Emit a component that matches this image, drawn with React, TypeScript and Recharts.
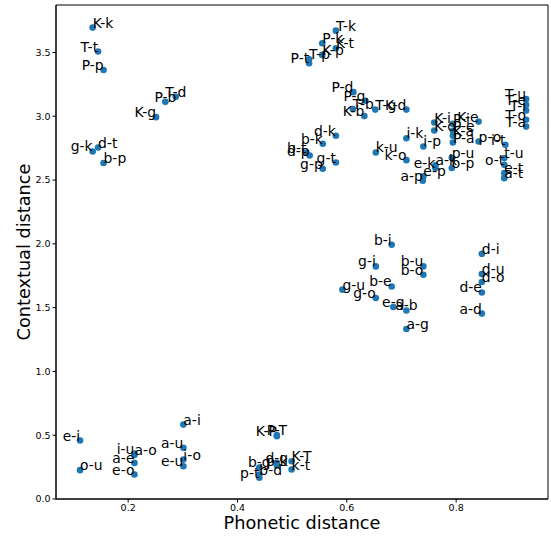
import React from 'react';
import { ScatterChart, Scatter, XAxis, YAxis, ReferenceArea } from 'recharts';

// Pair labels
const pairLabels = [
  'K-k', 'T-t', 'P-p', 'P-b', 'T-d', 'K-g', 'g-k', 'd-t', 'b-p',
  'T-k', 'P-k', 'K-t', 'K-p', 'T-p', 'P-t',
  'P-d', 'P-g', 'T-b', 'K-b', 'T-g', 'K-d',
  'd-k', 'b-k', 'd-p', 'b-t', 'g-t', 'g-p',
  'i-k', 'k-u', 'k-o', 'i-p', 'e-k', 'a-k', 'a-p', 'e-p', 'o-p', 'p-u',
  'K-i', 'K-o', 'P-i', 'K-e', 'P-e', 'K-a', 'P-a', 'p-o', 'i-t', 't-u', 'o-t', 'e-t', 'a-t',
  'T-u', 'T-e', 'T-i', 'T-o', 'T-a',
  'b-i', 'g-i', 'b-u', 'b-o', 'g-u', 'b-e', 'g-o', 'e-g', 'a-b', 'a-g',
  'd-i', 'd-u', 'd-o', 'd-e', 'a-d',
  'a-i', 'e-i', 'o-u', 'i-u', 'a-o', 'a-e', 'e-o', 'a-u', 'i-o', 'e-u',
  'K-P', 'P-T', 'd-g', 'p-k', 'K-T', 'k-t', 'b-g', 'b-d', 'p-t',
];

// Phonetic distance (x)
const phoneticDistance = [
  0.135, 0.145, 0.155, 0.268, 0.287, 0.251, 0.135, 0.145, 0.155,
  0.580, 0.555, 0.580, 0.555, 0.531, 0.531,
  0.612, 0.634, 0.611, 0.632, 0.652, 0.709,
  0.580, 0.556, 0.532, 0.526, 0.580, 0.556,
  0.709, 0.653, 0.709, 0.740, 0.762, 0.762, 0.739, 0.740, 0.792, 0.792,
  0.760, 0.760, 0.794, 0.841, 0.794, 0.794, 0.794, 0.841, 0.890, 0.888, 0.888, 0.888, 0.888,
  0.928, 0.928, 0.928, 0.928, 0.928,
  0.682, 0.653, 0.740, 0.740, 0.592, 0.682, 0.653, 0.685, 0.709, 0.709,
  0.847, 0.847, 0.847, 0.847, 0.847,
  0.301, 0.112, 0.112, 0.2115, 0.2115, 0.2115, 0.2115, 0.301, 0.301, 0.301,
  0.472, 0.472, 0.472, 0.472, 0.499, 0.499, 0.440, 0.440, 0.440,
];

// Contextual distance (y)
const contextualDistance = [
  3.695, 3.507, 3.363, 3.113, 3.152, 2.993, 2.724, 2.755, 2.633,
  3.671, 3.572, 3.533, 3.481, 3.447, 3.416,
  3.189, 3.121, 3.056, 3.001, 3.052, 3.052,
  2.847, 2.784, 2.692, 2.713, 2.637, 2.588,
  2.828, 2.716, 2.656, 2.763, 2.594, 2.615, 2.494, 2.529, 2.594, 2.674,
  2.951, 2.888, 2.940, 2.958, 2.886, 2.847, 2.794, 2.802, 2.776, 2.672, 2.619, 2.554, 2.515,
  3.134, 3.089, 3.045, 2.972, 2.919,
  1.993, 1.823, 1.823, 1.758, 1.641, 1.666, 1.576, 1.505, 1.478, 1.333,
  1.922, 1.764, 1.701, 1.619, 1.453,
  0.583, 0.458, 0.226, 0.356, 0.345, 0.283, 0.192, 0.401, 0.309, 0.257,
  0.492, 0.501, 0.283, 0.262, 0.296, 0.231, 0.247, 0.192, 0.166,
];

// Label text alignment relative to its point (s = start, m = middle, e = end)
const labelAlign = [
  's', 'e', 'e', 'm', 'm', 'e', 'e', 's', 's',
  's', 's', 's', 's', 's', 'e',
  'e', 'e', 's', 'e', 's', 'e',
  'e', 'e', 'e', 'e', 'e', 'e',
  's', 's', 'e', 's', 'e', 's', 'e', 's', 's', 's',
  's', 's', 's', 'e', 's', 's', 's', 's', 'e', 's', 'e', 's', 's',
  'e', 'e', 'e', 'e', 'e',
  'e', 'e', 'e', 'e', 's', 'e', 'e', 'm', 'm', 's',
  's', 's', 's', 'e', 'e',
  's', 'e', 's', 'e', 's', 'e', 'e', 'e', 's', 'e',
  'e', 'm', 'm', 'm', 's', 's', 'm', 's', 'e',
];

const xTicks = [0.2, 0.4, 0.6, 0.8];
const yTicks = [0, 0.5, 1.0, 1.5, 2.0, 2.5, 3.0, 3.5];
const xDomain = [0.068, 0.968];
const yDomain = [0, 3.872];

const FONT = 'DejaVu Sans';
const DOT = '#1f77b4';

const points = pairLabels.map((label, i) => ({
  label,
  x: phoneticDistance[i],
  y: contextualDistance[i],
  align: labelAlign[i],
}));

const anchorMap: Record<string, string> = { s: 'start', m: 'middle', e: 'end' };

const DotShape = (props: any) => {
  const { cx, cy } = props;
  if (cx == null || cy == null) return null;
  return <circle cx={cx} cy={cy} r={3.3} fill={DOT} />;
};

const LabelShape = (props: any) => {
  const { cx, cy, payload } = props;
  if (cx == null || cy == null || !payload) return null;
  return (
    <text
      x={cx}
      y={cy}
      textAnchor={anchorMap[payload.align] || 'start'}
      fontFamily={FONT}
      fontSize={13.9}
      fill="#000"
    >
      {payload.label}
    </text>
  );
};

const XTitle = (props: any) => {
  const vb = props.viewBox || {};
  const cx = (vb.x ?? 56) + (vb.width ?? 492) / 2;
  const y = (vb.y ?? 499) + (vb.height ?? 37) - 7;
  return (
    <text x={cx} y={y} textAnchor="middle" fontFamily={FONT} fontSize={17.7} fill="#000">
      Phonetic distance
    </text>
  );
};

const YTitle = (props: any) => {
  const vb = props.viewBox || {};
  const cy = (vb.y ?? 5) + (vb.height ?? 494) / 2;
  const x = 30;
  return (
    <text
      x={x}
      y={cy}
      transform={`rotate(-90 ${x} ${cy})`}
      textAnchor="middle"
      fontFamily={FONT}
      fontSize={17.7}
      fill="#000"
    >
      Contextual distance
    </text>
  );
};

export default function App() {
  return (
    <div style={{ position: 'absolute', left: 0, top: 0, width: 551, height: 536, background: '#fff' }}>
      <ScatterChart width={551} height={536} margin={{ top: 5, right: 3, bottom: 0, left: 0 }}>
        <XAxis
          type="number"
          dataKey="x"
          domain={xDomain}
          allowDataOverflow
          ticks={xTicks}
          tickFormatter={(v: number) => v.toFixed(1)}
          height={37}
          stroke="#000"
          tickSize={3.5}
          tickMargin={1.5}
          tick={{ fontSize: 9.5, fill: '#000', fontFamily: FONT }}
          label={XTitle}
        />
        <YAxis
          type="number"
          dataKey="y"
          domain={yDomain}
          allowDataOverflow
          ticks={yTicks}
          tickFormatter={(v: number) => v.toFixed(1)}
          width={56}
          stroke="#000"
          tickSize={3.5}
          tickMargin={2}
          tick={{ fontSize: 9.5, fill: '#000', fontFamily: FONT }}
          label={YTitle}
        />
        <ReferenceArea
          x1={xDomain[0]}
          x2={xDomain[1]}
          y1={yDomain[0]}
          y2={yDomain[1]}
          fill="none"
          fillOpacity={0}
          stroke="#000"
          strokeWidth={1}
          ifOverflow="visible"
        />
        <Scatter data={points} shape={DotShape} isAnimationActive={false} />
        <Scatter data={points} shape={LabelShape} isAnimationActive={false} />
      </ScatterChart>
    </div>
  );
}
